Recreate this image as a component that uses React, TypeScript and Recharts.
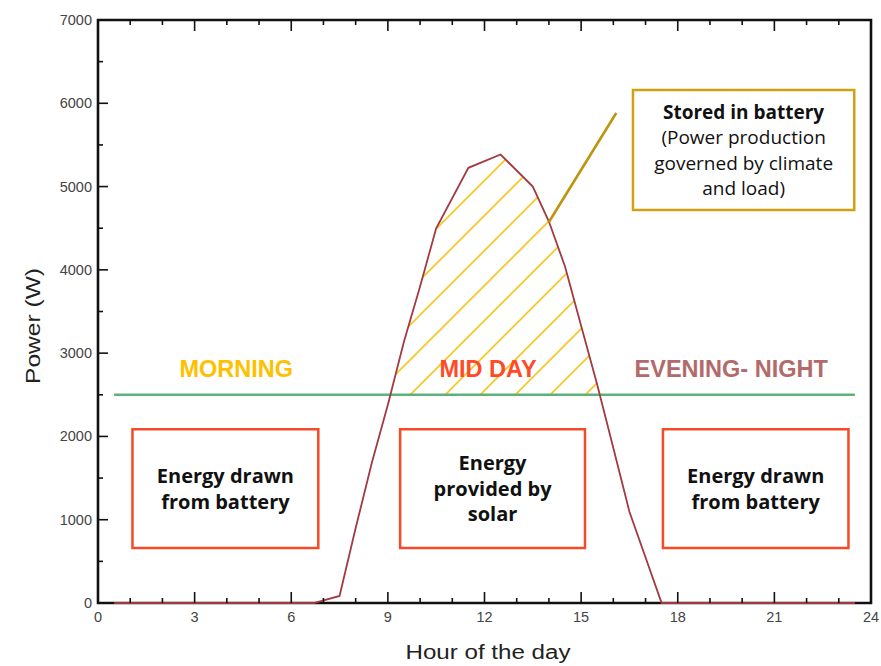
import React from 'react';
import {
  ComposedChart,
  Line,
  Area,
  XAxis,
  YAxis,
  ReferenceArea,
  ReferenceDot,
  ReferenceLine,
} from 'recharts';

// ---- data ----
const HOURS = [0.5, 6.7, 7.5, 8, 8.5, 9, 9.5, 10, 10.5, 11.5, 12.5, 13.5, 14, 14.5, 15, 15.5, 16, 16.5, 17.5, 23.5];
const POWER = [0, 0, 85, 900, 1680, 2380, 3140, 3800, 4500, 5225, 5385, 5000, 4580, 4040, 3330, 2620, 1860, 1096, 0, 0];

const STORED_HOURS = [9.08, 9.5, 10, 10.5, 11.5, 12.5, 13.5, 14, 14.5, 15, 15.5, 15.58];
const STORED = [2500, 3140, 3800, 4500, 5225, 5385, 5000, 4580, 4040, 3330, 2620, 2500];

const LOAD_HOURS = [0.5, 23.5];
const LOAD = [2500, 2500];

const X_TICKS = [0, 1, 2, 3, 4, 5, 6, 7, 8, 9, 10, 11, 12, 13, 14, 15, 16, 17, 18, 19, 20, 21, 22, 23, 24];
const Y_TICKS = [0, 500, 1000, 1500, 2000, 2500, 3000, 3500, 4000, 4500, 5000, 5500, 6000, 6500, 7000];

const BOX_MORNING = ['Energy drawn', 'from battery'];
const BOX_MIDDAY = ['Energy', 'provided by', 'solar'];
const BOX_EVENING = ['Energy drawn', 'from battery'];
const NOTE_LINES = ['Stored in battery', '(Power production', 'governed by climate', 'and load)'];

// ---- table built from the arrays ----
const rowMap = new Map<number, any>();
const put = (h: number, key: string, v: number) => {
  const r = rowMap.get(h) ?? { hour: h };
  r[key] = v;
  rowMap.set(h, r);
};
HOURS.forEach((h, i) => put(h, 'power', POWER[i]));
STORED_HOURS.forEach((h, i) => put(h, 'stored', STORED[i]));
LOAD_HOURS.forEach((h, i) => put(h, 'load', LOAD[i]));
const DATA = Array.from(rowMap.values()).sort((a, b) => a.hour - b.hour);

const ARIAL = '"Liberation Sans", Arial, sans-serif';
const OPEN = '"Open Sans", "Liberation Sans", Arial, sans-serif';
const AX = '#111';

const BottomTick = (p: any) => {
  const { x, y, payload } = p;
  const v = payload.value;
  const major = v % 3 === 0;
  return (
    <g>
      <line x1={x} x2={x} y1={y} y2={y - (major ? 11 : 5)} stroke={AX} strokeWidth={1.6} />
      {major && (
        <text x={x} y={y + 19} textAnchor="middle" fontSize={14.5} fill="#444" fontFamily={ARIAL}>
          {v}
        </text>
      )}
    </g>
  );
};
const TopTick = (p: any) => {
  const { x, y, payload } = p;
  const major = payload.value % 3 === 0;
  return <line x1={x} x2={x} y1={y} y2={y + (major ? 11 : 5)} stroke={AX} strokeWidth={1.6} />;
};
const LeftTick = (p: any) => {
  const { x, y, payload } = p;
  const v = payload.value;
  const major = v % 1000 === 0;
  return (
    <g>
      <line x1={x} x2={x + (major ? 10 : 5)} y1={y} y2={y} stroke={AX} strokeWidth={1.6} />
      {major && (
        <text x={x - 6} y={y + 5} textAnchor="end" fontSize={14.5} fill="#444" fontFamily={ARIAL}>
          {v}
        </text>
      )}
    </g>
  );
};
const RightTick = (p: any) => {
  const { x, y, payload } = p;
  const major = payload.value % 1000 === 0;
  return <line x1={x} x2={x - (major ? 11 : 5)} y1={y} y2={y} stroke={AX} strokeWidth={1.6} />;
};

const multiLabel =
  (lines: string[], opts: { size: number; lh: number; font: string; boldFirst?: boolean; bold?: boolean }) =>
  (props: any) => {
    const vb = props.viewBox || {};
    const cx = vb.x + vb.width / 2;
    const cy = vb.y + vb.height / 2;
    const n = lines.length;
    return (
      <text textAnchor="middle" fontFamily={opts.font} fontSize={opts.size} fill="#111">
        {lines.map((l, i) => (
          <tspan
            key={i}
            x={cx}
            y={cy + (i - (n - 1) / 2) * opts.lh + opts.size * 0.36}
            fontWeight={opts.bold || (opts.boldFirst && i === 0) ? 700 : 400}
          >
            {l}
          </tspan>
        ))}
      </text>
    );
  };

const sectionLabel = (value: string, fill: string) => ({
  value,
  position: 'center' as const,
  fill,
  fontSize: 23.5,
  fontWeight: 700,
  fontFamily: ARIAL,
});

export default function App() {
  return (
    <div style={{ position: 'absolute', left: 0, top: 0, background: '#fff' }}>
      <ComposedChart width={881} height={666} data={DATA} margin={{ top: 0, right: 0, bottom: 0, left: 0 }}>
        <defs>
          <pattern id="hatch" patternUnits="userSpaceOnUse" width="35" height="35">
            <path d="M0,35 L35,0 M-5,5 L5,-5 M30,40 L40,30" stroke="#f9c61f" strokeWidth={1.6} />
          </pattern>
        </defs>
        <XAxis
          dataKey="hour"
          type="number"
          domain={[0, 24]}
          ticks={X_TICKS}
          interval={0}
          height={63}
          tickSize={0}
          tickMargin={0}
          tickLine={false}
          tick={BottomTick}
          axisLine={false}
          label={{
            content: () => (
              <text
                x={488}
                y={659}
                textAnchor="middle"
                fontSize={20}
                fill="#222"
                fontFamily={ARIAL}
                textLength={165}
                lengthAdjust="spacingAndGlyphs"
              >
                Hour of the day
              </text>
            ),
          }}
        />
        <XAxis
          xAxisId="top"
          orientation="top"
          dataKey="hour"
          type="number"
          domain={[0, 24]}
          ticks={X_TICKS}
          interval={0}
          height={20}
          tickSize={0}
          tickMargin={0}
          tickLine={false}
          tick={TopTick}
          axisLine={false}
        />
        <YAxis
          type="number"
          domain={[0, 7000]}
          ticks={Y_TICKS}
          interval={0}
          width={98}
          tickSize={0}
          tickMargin={0}
          tickLine={false}
          tick={LeftTick}
          axisLine={false}
          label={{
            content: () => (
              <text
                x={33}
                y={333}
                textAnchor="middle"
                fontSize={20}
                fill="#222"
                fontFamily={ARIAL}
                transform="rotate(-90, 33, 326)"
                textLength={116}
                lengthAdjust="spacingAndGlyphs"
              >
                Power (W)
              </text>
            ),
          }}
        />
        <YAxis
          yAxisId="right"
          orientation="right"
          type="number"
          domain={[0, 7000]}
          ticks={Y_TICKS}
          interval={0}
          width={10}
          tickSize={0}
          tickMargin={0}
          tickLine={false}
          tick={RightTick}
          axisLine={false}
        />

        <ReferenceArea x1={0} x2={24} y1={0} y2={7000} fill="none" stroke={AX} strokeWidth={2.6} />

        <ReferenceArea
          x1={1.07}
          x2={6.84}
          y1={660}
          y2={2086}
          fill="#fff"
          fillOpacity={1}
          stroke="#f54a28"
          strokeWidth={2.5}
          label={multiLabel(BOX_MORNING, { size: 20, lh: 25.5, font: OPEN, bold: true })}
        />
        <ReferenceArea
          x1={9.38}
          x2={15.12}
          y1={660}
          y2={2086}
          fill="#fff"
          fillOpacity={1}
          stroke="#f54a28"
          strokeWidth={2.5}
          label={multiLabel(BOX_MIDDAY, { size: 20, lh: 25.5, font: OPEN, bold: true })}
        />
        <ReferenceArea
          x1={17.54}
          x2={23.3}
          y1={660}
          y2={2086}
          fill="#fff"
          fillOpacity={1}
          stroke="#f54a28"
          strokeWidth={2.5}
          label={multiLabel(BOX_EVENING, { size: 20, lh: 25.5, font: OPEN, bold: true })}
        />
        <ReferenceArea
          x1={16.61}
          x2={23.48}
          y1={4718}
          y2={6159}
          fill="#fff"
          fillOpacity={1}
          stroke="#d4a012"
          strokeWidth={2.5}
          label={multiLabel(NOTE_LINES, { size: 19, lh: 25.3, font: OPEN, boldFirst: true })}
        />

        <Area
          dataKey="stored"
          type="linear"
          baseValue={2500}
          connectNulls
          stroke="none"
          fill="url(#hatch)"
          fillOpacity={1}
          isAnimationActive={false}
          dot={false}
          activeDot={false}
        />
        <Line
          dataKey="load"
          type="linear"
          connectNulls
          stroke="#5cb27a"
          strokeWidth={2.6}
          dot={false}
          activeDot={false}
          isAnimationActive={false}
        />
        <Line
          dataKey="power"
          type="linear"
          connectNulls
          stroke="#a23a42"
          strokeWidth={1.8}
          dot={false}
          activeDot={false}
          isAnimationActive={false}
        />

        <ReferenceLine
          segment={[
            { x: 14.0, y: 4574 },
            { x: 16.09, y: 5883 },
          ]}
          stroke="#bf9410"
          strokeWidth={2.6}
        />

        <ReferenceDot x={4.29} y={2810} r={0} stroke="none" fill="none" label={sectionLabel('MORNING', '#ffc000')} />
        <ReferenceDot x={12.11} y={2810} r={0} stroke="none" fill="none" label={sectionLabel('MID DAY', '#ff4a26')} />
        <ReferenceDot
          x={19.66}
          y={2810}
          r={0}
          stroke="none"
          fill="none"
          label={sectionLabel('EVENING- NIGHT', '#b36a6a')}
        />
      </ComposedChart>
    </div>
  );
}
